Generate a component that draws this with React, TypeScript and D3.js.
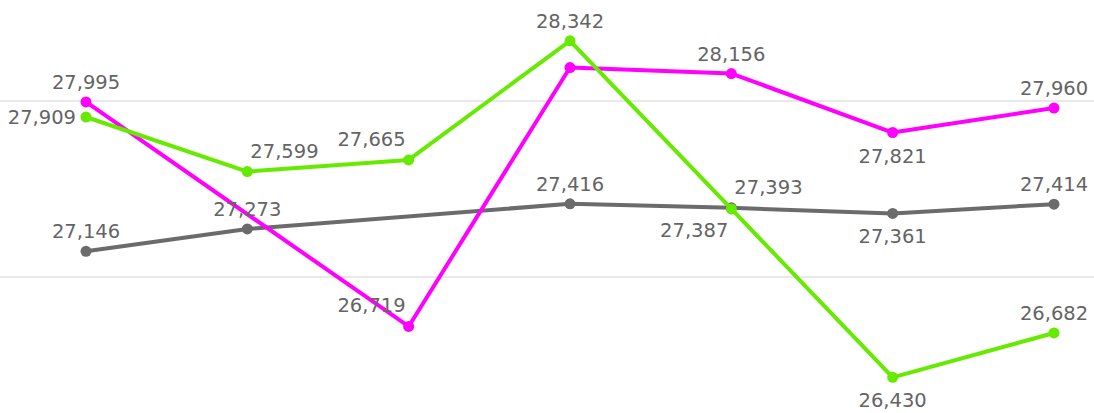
import React from 'react';
import * as d3 from 'd3';

const categories = ['P1', 'P2', 'P3', 'P4', 'P5', 'P6', 'P7'];
const magentaValues: (number | null)[] = [27995, null, 26719, 28190, 28156, 27821, 27960];
const greenValues: (number | null)[] = [27909, 27599, 27665, 28342, 27387, 26430, 26682];
const greyValues: (number | null)[] = [27146, 27273, null, 27416, 27393, 27361, 27414];
const gridValues = [27000, 28000];

// label placement per point (null = no label shown)
type Place = 'above' | 'below' | 'left' | 'aboveLeft' | 'aboveRight' | 'belowLeft' | null;
const greyPlace: Place[] = ['above', 'above', null, 'above', 'aboveRight', 'below', 'above'];
const magentaPlace: Place[] = ['above', null, 'aboveLeft', null, 'above', 'below', 'above'];
const greenPlace: Place[] = ['left', 'aboveRight', 'aboveLeft', 'above', 'belowLeft', 'below', 'above'];

const W = 1094;
const H = 413;

const series = [
  { name: 'grey', color: '#6b6b6b', values: greyValues, place: greyPlace },
  { name: 'magenta', color: '#ff00ff', values: magentaValues, place: magentaPlace },
  { name: 'green', color: '#66ea00', values: greenValues, place: greenPlace },
];

export default function App() {
  const x = d3.scalePoint<string>().domain(categories).range([86, 1054]);
  const y = d3.scaleLinear().domain([27000, 28000]).range([277, 101]);
  const fmt = d3.format(',');

  const line = d3
    .line<{ c: string; v: number }>()
    .x((d) => x(d.c)!)
    .y((d) => y(d.v));

  const labelProps = (p: Place, px: number, py: number) => {
    switch (p) {
      case 'above':
        return { x: px, y: py - 13, anchor: 'middle' };
      case 'below':
        return { x: px, y: py + 30, anchor: 'middle' };
      case 'left':
        return { x: px - 10, y: py + 7, anchor: 'end' };
      case 'aboveLeft':
        return { x: px - 3, y: py - 14, anchor: 'end' };
      case 'aboveRight':
        return { x: px + 3, y: py - 14, anchor: 'start' };
      case 'belowLeft':
        return { x: px - 3, y: py + 28, anchor: 'end' };
      default:
        return null;
    }
  };

  return (
    <svg
      width={W}
      height={H}
      style={{ position: 'absolute', left: 0, top: 0, background: '#fff' }}
      fontFamily="DejaVu Sans, sans-serif"
    >
      {gridValues.map((g) => (
        <line key={g} x1={0} x2={W} y1={y(g)} y2={y(g)} stroke="#d2d2d2" strokeWidth={1} />
      ))}
      {series.map((s) => {
        const pts = s.values
          .map((v, i) => ({ c: categories[i], v }))
          .filter((d) => d.v !== null) as { c: string; v: number }[];
        return (
          <g key={s.name}>
            <path d={line(pts)!} fill="none" stroke={s.color} strokeWidth={4} strokeLinejoin="round" />
            {pts.map((d) => (
              <circle key={d.c} cx={x(d.c)!} cy={y(d.v)} r={5.5} fill={s.color} />
            ))}
          </g>
        );
      })}
      {series.map((s) => (
        <g key={s.name + '-labels'}>
          {s.values.map((v, i) => {
            if (v === null) return null;
            const lp = labelProps(s.place[i], x(categories[i])!, y(v));
            if (!lp) return null;
            return (
              <text
                key={i}
                x={lp.x}
                y={lp.y}
                textAnchor={lp.anchor as any}
                fontSize={19.5}
                fill="#646464"
              >
                {fmt(v)}
              </text>
            );
          })}
        </g>
      ))}
    </svg>
  );
}
